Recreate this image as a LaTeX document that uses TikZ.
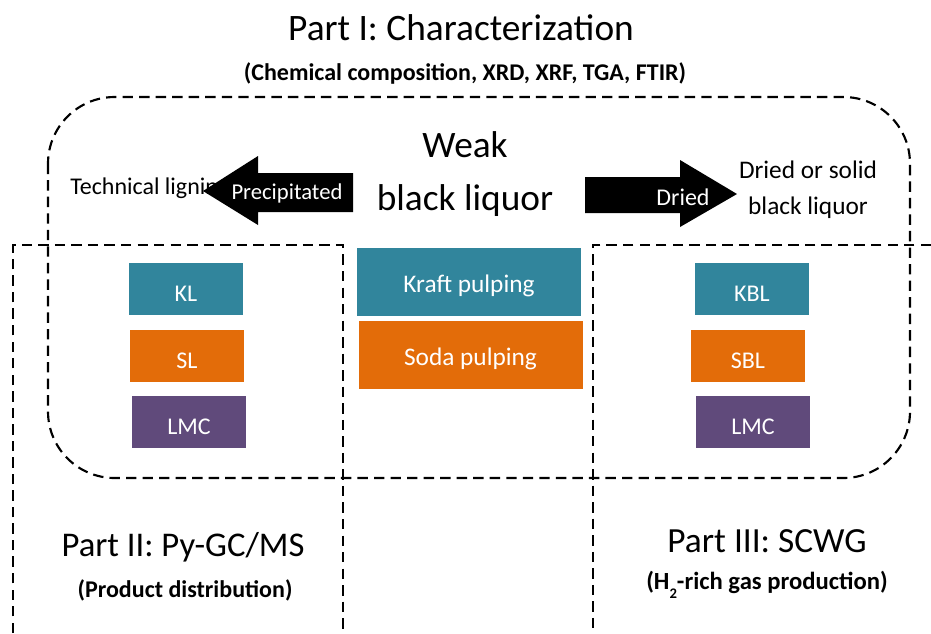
\documentclass[tikz,border=0pt]{standalone}
\usepackage{fontspec}
\setmainfont{Carlito}
\definecolor{kteal}{RGB}{49,133,156}
\definecolor{korange}{RGB}{227,108,9}
\definecolor{kpurple}{RGB}{96,74,123}
% label set on a baseline a fixed distance below the box centre
\newcommand{\lowtext}[2]{\raisebox{-#1}[0pt][0pt]{#2}}
\begin{document}
\begin{tikzpicture}[x=0.75pt,y=-0.75pt,
  dashline/.style={line width=1.6pt, dash pattern=on 7.8pt off 4.6pt},
  smallbox/.style={inner sep=0pt, minimum width=85.5pt, minimum height=39pt, text=white, font=\fontsize{18}{20}\selectfont},
  bigbox/.style={inner sep=0pt, minimum width=168pt, minimum height=51pt, text=white, font=\fontsize{19}{22}\selectfont},
  label/.style={inner sep=0pt, align=center},
  arrowbody/.style={fill=black, draw=none}]
\useasboundingbox (0,0) rectangle (931,633);

% headings
\node[label, font=\fontsize{28}{32}\selectfont] (title) at (461,28) {Part I: Characterization};
\node[label, font=\bfseries\fontsize{18}{21}\selectfont] (sub) at (465,73) {(Chemical composition, XRD, XRF, TGA, FTIR)};

% dashed frames
\draw[dashline, rounded corners=50] (48,97) rectangle (910,478);
\draw[dashline] (13,633) -- (13,245) -- (343,245) -- (343,633);
\draw[dashline] (931,245) -- (593,245) -- (593,633);

% central black liquor
\node[label, font=\fontsize{28}{32}\selectfont] (weak) at (465,145) {Weak};
\node[label, font=\fontsize{28}{32}\selectfont] (bl) at (465,201) {black liquor};

% left side: precipitation
\node[label, anchor=west, font=\fontsize{18}{21}\selectfont] (tech) at (70,188) {Technical lignin};
\fill[arrowbody] (353,173) -- (258,173) -- (258,156) -- (203,191) -- (258,225) -- (258,212) -- (353,212) -- cycle;
\node[label, text=white, font=\fontsize{17}{20}\selectfont] (prec) at (287,193) {Precipitated};

% right side: drying
\fill[arrowbody] (585,177) -- (680,177) -- (680,160) -- (737,194) -- (680,227) -- (680,213) -- (585,213) -- cycle;
\node[label, text=white, font=\fontsize{18}{21}\selectfont] (dried) at (683,197) {Dried};
\node[label, font=\fontsize{19}{22}\selectfont] (dry1) at (808,170) {Dried or solid};
\node[label, font=\fontsize{19}{22}\selectfont] (dry2) at (808,208) {black liquor};

% pulping boxes
\node[bigbox, fill=kteal] (kraft) at (469,281.5) {\lowtext{7.9pt}{Kraft pulping}};
\node[bigbox, fill=korange] (soda) at (470.5,354.5) {\lowtext{8.6pt}{Soda pulping}};

% lignin samples
\node[smallbox, fill=kteal] (kl) at (186,289) {\lowtext{9.5pt}{KL}};
\node[smallbox, fill=korange] (sl) at (187,356) {\lowtext{9.3pt}{SL}};
\node[smallbox, fill=kpurple] (lmcl) at (189,422) {\lowtext{9.7pt}{LMC}};

% black liquor samples
\node[smallbox, fill=kteal] (kbl) at (752,289) {\lowtext{9.5pt}{KBL}};
\node[smallbox, fill=korange] (sbl) at (748,356) {\lowtext{9.3pt}{SBL}};
\node[smallbox, fill=kpurple] (lmcr) at (753,422) {\lowtext{9.7pt}{LMC}};

% parts II and III
\node[label, font=\fontsize{26}{30}\selectfont] (p2) at (183,547) {Part II: Py-GC/MS};
\node[label, font=\bfseries\fontsize{18}{21}\selectfont] (p2s) at (185,590) {(Product distribution)};
\node[label, font=\fontsize{26.5}{30}\selectfont] (p3) at (767,541) {Part III: SCWG};
\node[label, font=\bfseries\fontsize{18.5}{21}\selectfont] (p3s) at (767,585) {(H\raisebox{-0.7ex}{\fontsize{11}{12}\selectfont 2}-rich gas production)};
\end{tikzpicture}
\end{document}
